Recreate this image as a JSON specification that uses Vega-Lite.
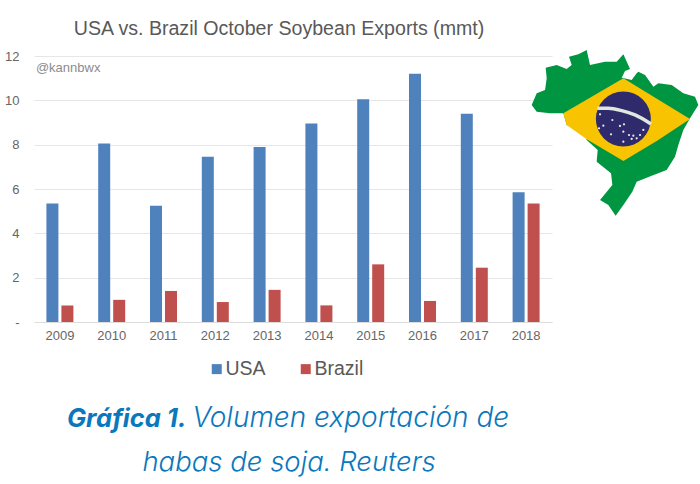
{
"$schema":"https://vega.github.io/schema/vega-lite/v6.json",
"autosize":"none","width":518,"height":266,
"padding":{"left":34,"top":56,"right":148,"bottom":162},
"background":"white",
"title":{"text":"USA vs. Brazil October Soybean Exports (mmt)","font":"Liberation Sans","fontSize":19.6,"fontWeight":"normal","color":"#595959","anchor":"middle","dx":-14,"offset":10},
"projection":{"type":"equirectangular","scale":243.5,"translate":[811.5,17.5]},
"config":{"view":{"stroke":null},"font":"Liberation Sans"},
"layer":[
{"data":{"values":[
{"year":"2009","country":"USA","value":5.35},{"year":"2009","country":"Brazil","value":0.75},
{"year":"2010","country":"USA","value":8.05},{"year":"2010","country":"Brazil","value":1.0},
{"year":"2011","country":"USA","value":5.25},{"year":"2011","country":"Brazil","value":1.4},
{"year":"2012","country":"USA","value":7.45},{"year":"2012","country":"Brazil","value":0.9},
{"year":"2013","country":"USA","value":7.9},{"year":"2013","country":"Brazil","value":1.45},
{"year":"2014","country":"USA","value":8.95},{"year":"2014","country":"Brazil","value":0.75},
{"year":"2015","country":"USA","value":10.05},{"year":"2015","country":"Brazil","value":2.6},
{"year":"2016","country":"USA","value":11.2},{"year":"2016","country":"Brazil","value":0.95},
{"year":"2017","country":"USA","value":9.4},{"year":"2017","country":"Brazil","value":2.45},
{"year":"2018","country":"USA","value":5.85},{"year":"2018","country":"Brazil","value":5.35}
]},
"mark":{"type":"bar"},
"encoding":{
"x":{"field":"year","type":"nominal","title":null,"scale":{"paddingInner":0,"paddingOuter":0},
"axis":{"labelAngle":0,"labelFontSize":13,"labelColor":"#666666","labelPadding":7,"ticks":false,"domainColor":"#dddddd","grid":false}},
"xOffset":{"field":"country","type":"nominal","sort":["USA","Brazil"],"scale":{"domain":["USA","Brazil"],"paddingInner":0.2,"paddingOuter":0.827}},
"y":{"field":"value","type":"quantitative","title":null,"scale":{"domain":[0,12],"nice":false},
"axis":{"values":[0,2,4,6,8,10,12],"labelExpr":"datum.value==0?'-':datum.label","labelFontSize":13,"labelColor":"#666666","labelPadding":15,"ticks":false,"domain":false,"gridColor":"#e6e6e6"}},
"color":{"field":"country","type":"nominal","scale":{"domain":["USA","Brazil"],"range":["#4f81bd","#c0504d"]},
"legend":{"title":null,"orient":"none","legendX":173,"legendY":303,"direction":"horizontal","symbolType":"square","symbolSize":100,"labelFontSize":19.5,"labelColor":"#595959","columnPadding":30,"labelOffset":-1}}
}},
{"data":{"values":[
{"year":"2009","v":11.45,"t":"@kannbwx"}
]},
"mark":{"type":"text","align":"left","baseline":"middle","dx":-24,"fontSize":13,"color":"#8c8c8c"},
"encoding":{"x":{"field":"year","type":"nominal"},"y":{"field":"v","type":"quantitative"},"text":{"field":"t"}}},
{"data":{"values":[
{"year":"2009","v":-4.74,"t":"Gráfica 1."}
]},
"mark":{"type":"text","align":"left","baseline":"alphabetic","dx":7,"font":"Inter","fontSize":25.5,"fontStyle":"italic","fontWeight":"bold","color":"#0a78bc"},
"encoding":{"x":{"field":"year","type":"nominal"},"y":{"field":"v","type":"quantitative"},"text":{"field":"t"}}},
{"data":{"values":[
{"year":"2012","v":-4.74,"t":"Volumen exportación de"}
]},
"mark":{"type":"text","align":"left","baseline":"alphabetic","dx":-23,"font":"Inter","fontSize":28,"fontStyle":"italic","fontWeight":300,"color":"#0a78bc"},
"encoding":{"x":{"field":"year","type":"nominal"},"y":{"field":"v","type":"quantitative"},"text":{"field":"t"}}},
{"data":{"values":[
{"year":"2013","v":-6.72,"t":"habas de soja. Reuters"}
]},
"mark":{"type":"text","align":"center","baseline":"alphabetic","dx":22,"font":"Inter","fontSize":27.5,"fontStyle":"italic","fontWeight":300,"color":"#0a78bc"},
"encoding":{"x":{"field":"year","type":"nominal"},"y":{"field":"v","type":"quantitative"},"text":{"field":"t"}}},
{"data":{"values":[
{"type":"Feature","properties":{"name":"Brasil"},"geometry":{"type":"Polygon","coordinates":[[[-70.55,1.38],[-67.96,2.0],[-65.61,1.06],[-64.43,2.0],[-65.06,3.96],[-62.86,4.51],[-60.9,5.53],[-60.12,2.0],[-56.59,2.79],[-53.84,2.79],[-52.27,4.51],[-50.7,1.06],[-51.88,0.59],[-52.66,-0.98],[-50.31,-1.53],[-49.14,0.04],[-48.74,0.44],[-47.17,-0.35],[-45.21,-3.09],[-44.04,-2.31],[-40.9,-2.7],[-38.16,-4.66],[-35.41,-5.45],[-34.63,-7.41],[-36.59,-10.54],[-38.16,-13.29],[-39.33,-16.82],[-40.12,-19.56],[-42.08,-22.7],[-45.61,-24.04],[-49.14,-25.45],[-50.16,-27.8],[-52.27,-30.94],[-54.08,-33.45],[-55.8,-30.94],[-57.76,-29.76],[-54.86,-26.23],[-55.17,-23.49],[-58.55,-20.74],[-58.31,-18.0],[-60.9,-15.64],[-61.68,-13.53],[-65.61,-12.11],[-66.39,-9.37],[-69.53,-9.37],[-72.66,-8.98],[-73.84,-7.41],[-72.66,-4.66],[-70.7,-3.88],[-70.31,-1.13],[-70.55,1.38]]]}}
]},
"mark":{"type":"geoshape","fill":"#009540","stroke":null,"clip":false},"encoding":{}},
{"data":{"values":[
{"type":"Feature","properties":{"name":"Rombo"},"geometry":{"type":"Polygon","coordinates":[[[-66.39,-9.37],[-52.27,-1.13],[-36.59,-10.7],[-52.27,-20.58],[-60.9,-15.49],[-65.61,-12.11],[-66.39,-9.37]]]}}
]},
"mark":{"type":"geoshape","fill":"#f8c300","stroke":null,"clip":false},"encoding":{}},
{"data":{"values":[{"lon":-52.27,"lat":-10.7}]},
"mark":{"type":"circle","size":3025,"color":"#2e2a6b","opacity":1,"clip":false},
"encoding":{"longitude":{"field":"lon","type":"quantitative"},"latitude":{"field":"lat","type":"quantitative"}}},
{"data":{"values":[
{"i":1,"lon":-58.39,"lat":-8.19},{"i":2,"lon":-55.8,"lat":-8.19},{"i":3,"lon":-52.66,"lat":-8.74},{"i":4,"lon":-49.53,"lat":-9.76},{"i":5,"lon":-45.76,"lat":-11.88}
]},
"mark":{"type":"line","color":"#dfe8e0","strokeWidth":3.5,"interpolate":"monotone","clip":false},
"encoding":{"longitude":{"field":"lon","type":"quantitative"},"latitude":{"field":"lat","type":"quantitative"},"order":{"field":"i"}}},
{"data":{"values":[
{"lon":-57.76,"lat":-9.6},{"lon":-56.98,"lat":-12.27},{"lon":-58.0,"lat":-12.9},{"lon":-54.86,"lat":-10.94},{"lon":-55.17,"lat":-14.31},{"lon":-53.06,"lat":-12.35},{"lon":-52.12,"lat":-11.96},{"lon":-52.27,"lat":-13.68},{"lon":-50.94,"lat":-14.47},{"lon":-49.92,"lat":-14.62},{"lon":-48.35,"lat":-14.47},{"lon":-47.57,"lat":-13.29},{"lon":-49.14,"lat":-15.25},{"lon":-50.31,"lat":-15.41},{"lon":-52.27,"lat":-16.04}
]},
"mark":{"type":"circle","size":5,"color":"#ffffff","opacity":0.9,"clip":false},
"encoding":{"longitude":{"field":"lon","type":"quantitative"},"latitude":{"field":"lat","type":"quantitative"}}}
],
"resolve":{"scale":{"color":"independent"}}
}
